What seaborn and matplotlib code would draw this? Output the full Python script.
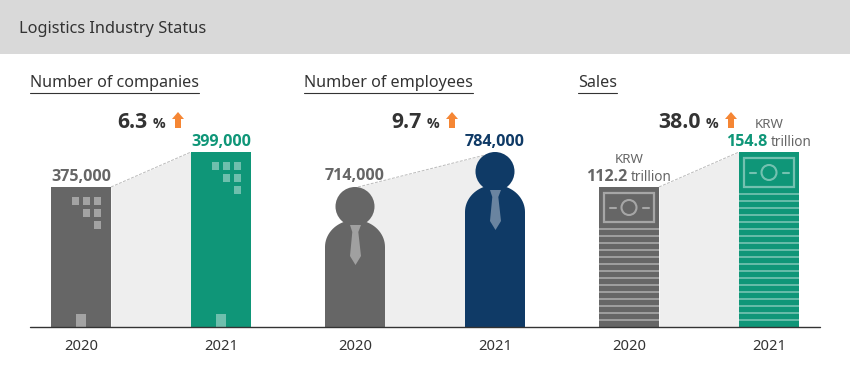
import matplotlib
matplotlib.use("Agg")
import matplotlib.pyplot as plt
import numpy as np
import seaborn as sns
from matplotlib.lines import Line2D
from matplotlib.patches import Circle, Polygon, Rectangle
from matplotlib.path import Path
from matplotlib.transforms import Affine2D

years = ["2020", "2021"]
companies = [375000, 399000]
employees = [714000, 784000]
sales = [112.2, 154.8]
changes = ["6.3", "9.7", "38.0"]
panel_titles = ["Number of companies", "Number of employees", "Sales"]
header = "Logistics Industry Status"

GREY = "#666666"
GREEN = "#0f9678"
NAVY = "#0f3a66"
ORANGE = "#f58634"
DARK = "#333333"
BAND = "#d9d9d9"
SHADE = "#eeeeee"
BOLD = ["Open Sans", "DejaVu Sans"]

W, H = 850, 370
BASE_Y = 327
BAR_PX = 60
GAP_PX = 140

sns.set_theme(style="white")
plt.rcParams["font.family"] = ["Noto Sans", "DejaVu Sans"]

fig = plt.figure(figsize=(W / 100, H / 100), dpi=100, facecolor="white")
# image pixels, y pointing down
img = Affine2D().scale(1, -1).translate(0, H)


def local(ax, bar):
    # pixel offsets from the top left corner of a bar
    x, y = ax.transData.transform((bar.get_x(), bar.get_y() + bar.get_height()))
    return Affine2D().scale(1, -1).translate(x, y)


def tint(ax, bar, artist):
    artist.set_transform(local(ax, bar))
    artist.set_clip_on(False)
    ax.add_artist(artist)


def draw_panel(centre, values, colors):
    left = centre - GAP_PX / 2
    ax = fig.add_axes([left / W, (H - BASE_Y) / H, 2 * GAP_PX / W, 175 / H])
    ax.patch.set_alpha(0)
    sns.barplot(x=years, y=values, hue=years, palette=colors, legend=False,
                width=BAR_PX / GAP_PX, saturation=1, linewidth=0, ax=ax)
    # pictogram axis: 2020 is 140 px tall and 2021 is 175 px tall
    step = (values[1] - values[0]) / 35
    low = values[0] - 140 * step
    ax.set_ylim(low, values[1])
    ax.set_xlim(-0.5, 1.5)
    ax.set_ylabel("")
    ax.set_yticks([])
    ax.tick_params(axis="x", length=0, pad=9, labelsize=10.6, labelcolor=DARK)
    sns.despine(ax=ax, left=True, bottom=True, top=True, right=True)
    bars = ax.patches[:2]
    # bars must reach the floor of the axis, also when it lies below zero
    for bar, value in zip(bars, values):
        bar.set_y(low)
        bar.set_height(value - low)
    return ax, bars


def connector(ax, values, x0, x1, y1):
    low = ax.get_ylim()[0]
    ax.fill_between([x0, x1], [values[0], y1], low, color=SHADE, lw=0, zorder=0)
    ax.plot([x0, x1], [values[0], y1], color="#bbbbbb", lw=0.7, ls=(0, (3, 1.5)), zorder=0)


def growth(x_arrow, text):
    fig.text(x_arrow - 24, 128, text, transform=img, ha="right", va="baseline",
             fontsize=15.2, fontweight="bold", family=BOLD, color=DARK)
    fig.text(x_arrow - 19, 128, "%", transform=img, ha="left", va="baseline",
             fontsize=10.2, fontweight="bold", family=BOLD, color=DARK)
    pts = [(0, 112), (6, 119), (3, 119), (3, 128), (-3, 128), (-3, 119), (-6, 119)]
    fig.add_artist(Polygon([(x_arrow + 6 + a, b) for a, b in pts], closed=True,
                           transform=img, color=ORANGE, lw=0))


def title(x, text):
    t = fig.text(x, 87, text, transform=img, ha="left", va="baseline",
                 fontsize=11.6, color=DARK)
    width = t.get_window_extent(fig.canvas.get_renderer()).width
    fig.add_artist(Line2D([x, x + width], [92.5, 92.5], transform=img, color=DARK, lw=0.8))


def value_label(s, x, y, ha, color):
    return plt.Text(x, y, s, ha=ha, va="baseline", fontsize=11.6, fontweight="bold",
                    family=BOLD, color=color)


# header band
fig.add_artist(Rectangle((0, 0), W, 54, transform=img, color=BAND, lw=0))
fig.text(19, 33, header, transform=img, ha="left", va="baseline", fontsize=11.75, color=DARK)

for x, text in zip([30, 304, 578], panel_titles):
    title(x, text)
for x, text in zip([172, 446, 725], changes):
    growth(x, text)

# companies
ax, bars = draw_panel(81, companies, [GREY, GREEN])
w = BAR_PX / GAP_PX
connector(ax, companies, w / 2, 1 - w / 2, companies[1])
for bar, value, color in zip(bars, companies, [GREY, GREEN]):
    for row, first in enumerate([0, 1, 2]):
        for col in range(first, 3):
            tint(ax, bar, Rectangle((21 + col * 11, 10 + row * 12), 7, 8, color="white", alpha=0.4, lw=0))
    tint(ax, bar, Rectangle((25, 127 if value == companies[0] else 162), 10, 13, color="white", alpha=0.4, lw=0))
    tint(ax, bar, value_label(f"{value:,}", 30, -6, "center", color))

# employees
ax, bars = draw_panel(355, employees, [GREY, NAVY])
step = (employees[1] - employees[0]) / 35
connector(ax, employees, 3 / GAP_PX, 1 - 10 / GAP_PX, employees[1] - 3 * step)
theta = np.linspace(np.pi, 0, 40)
for bar, value, color in zip(bars, employees, [GREY, NAVY]):
    height_px = 140 if value == employees[0] else 175
    dome = np.column_stack([30 + 30 * np.cos(theta), 60 - 27 * np.sin(theta)])
    outline = np.vstack([[(0, height_px)], dome, [(60, height_px)], [(0, height_px)]])
    bar.set_clip_path(Path(outline), local(ax, bar))
    tint(ax, bar, Circle((30, 19.5), 19.5, color=color, lw=0))
    tie = [(25, 38), (36, 38), (33.3, 45), (36, 69), (30.5, 78), (25, 69), (27.3, 45)]
    tint(ax, bar, Polygon(tie, closed=True, color="white", alpha=0.38, lw=0))
    tint(ax, bar, value_label(f"{value:,}", 30, -7 if value == employees[0] else -6, "center", color))

# sales
ax, bars = draw_panel(629, sales, [GREY, GREEN])
connector(ax, sales, w / 2, 1 - w / 2, sales[1])
for bar, value, color in zip(bars, sales, [GREY, GREEN]):
    height_px = 140 if value == sales[0] else 175
    tint(ax, bar, Rectangle((5, 6), 50, 29, fill=False, ec="white", alpha=0.42, lw=1.6))
    tint(ax, bar, Circle((30, 20.5), 7.5, fill=False, ec="white", alpha=0.42, lw=1.5))
    for a, b in [(10.5, 17), (43.5, 50)]:
        tint(ax, bar, Line2D([a, b], [20.5, 20.5], color="white", alpha=0.42, lw=1.5))
    for y in range(42, height_px - 4, 7):
        tint(ax, bar, Line2D([0, 60], [y, y], color="white", alpha=0.4, lw=1.3))
    tint(ax, bar, plt.Text(30, -24, "KRW", ha="center", va="baseline", fontsize=9.6, color=GREY))
    tint(ax, bar, value_label(f"{value}", 28, -6, "right", color))
    tint(ax, bar, plt.Text(32, -6, "trillion", ha="left", va="baseline", fontsize=9.8, color=GREY))

fig.add_artist(Line2D([30, 820], [327, 327], transform=img, color=DARK, lw=1.0))

fig.savefig("out.png", dpi=100)
